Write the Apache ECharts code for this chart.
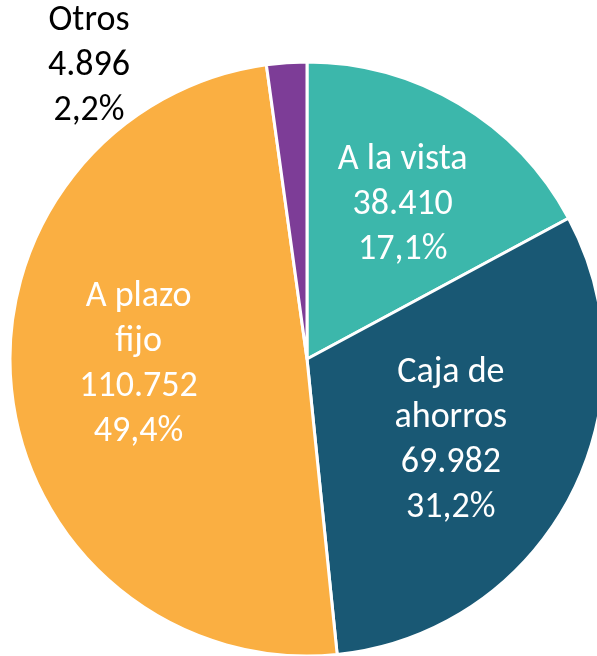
<!DOCTYPE html>
<html><head><meta charset="utf-8">
<script src="https://cdn.jsdelivr.net/npm/echarts@6/dist/echarts.min.js"></script>
<style>html,body{margin:0;padding:0;background:#fff}#c{width:597px;height:656px}</style>
</head><body><div id="c"></div>
<script>
const categories = ['A la vista', 'Caja de ahorros', 'A plazo fijo', 'Otros'];
const values = [38410, 69982, 110752, 4896];
const labelNames = ['A la vista', 'Caja de\nahorros', 'A plazo\nfijo', 'Otros'];
const percents = ['17,1%', '31,2%', '49,4%', '2,2%'];
const valueLabels = ['38.410', '69.982', '110.752', '4.896'];
const colors = ['#3CB7AB', '#195874', '#FAAF42', '#7D3D97'];
const labelOffsets = [[18, -24], [10, 11], [-18, -13], [0, 0]];

const chart = echarts.init(document.getElementById('c'));
const cx = 307, cy = 359;
const data = categories.map((c, i) => ({
  name: c, value: values[i],
  itemStyle: { color: colors[i] },
  label: i === 3 ? { position: 'outside', color: '#000' } : { position: 'inside', color: '#fff', offset: labelOffsets[i] },
  labelLine: { show: false }
}));
chart.setOption({
  animation: false,
  series: [{
    type: 'pie',
    center: [cx, cy],
    radius: [0, 297],
    startAngle: 90,
    clockwise: true,
    avoidLabelOverlap: false,
    itemStyle: { borderColor: '#fff', borderWidth: 3 },
    label: {
      fontFamily: 'Carlito, Lato, sans-serif',
      fontSize: 36,
      lineHeight: 45,
      align: 'center',
      formatter: p => labelNames[p.dataIndex] + '\n' + valueLabels[p.dataIndex] + '\n' + percents[p.dataIndex]
    },
    labelLayout: function (p) {
      if (p.dataIndex === 3) {
        return { x: 89, y: 66, align: 'center', verticalAlign: 'middle' };
      }
      return {};
    },
    data: data
  }]
});
</script></body></html>
